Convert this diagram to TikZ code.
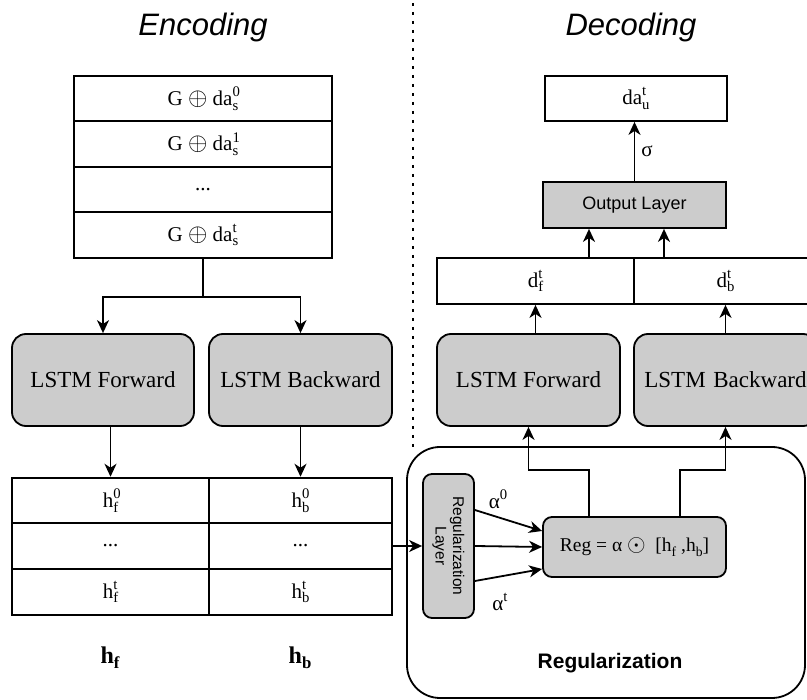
\documentclass[tikz,border=0pt]{standalone}
\usepackage{fontspec}
\setmainfont{Liberation Serif}
\setsansfont{Liberation Sans}
\usetikzlibrary{arrows.meta,calc}
\newcommand\SupSub[2]{\rlap{\raisebox{0.42em}{\scalebox{0.7}{#1}}}\raisebox{-0.22em}{\scalebox{0.7}{#2}}}
\newcommand\Sub[1]{\raisebox{-0.22em}{\scalebox{0.7}{#1}}}
\newcommand\Sup[1]{\raisebox{0.42em}{\scalebox{0.7}{#1}}}
\newcommand\OPlus{\scalebox{1.2}{$\oplus$}}
\definecolor{boxgray}{HTML}{CCCCCC}
\begin{document}
\begin{tikzpicture}[x=1pt,y=-1pt,
  line width=1.8pt,
  >={Stealth[length=13pt,width=12pt,inset=4pt]},
  cell/.style={draw,fill=white,inner sep=0pt,font=\fontsize{21}{25}\selectfont},
  lstm/.style={draw,fill=boxgray,rounded corners=14pt,inner sep=0pt,minimum width=182pt,minimum height=92pt,font=\fontsize{23}{27}\selectfont},
  graybox/.style={draw,fill=boxgray,rounded corners=9pt,inner sep=0pt},
  title/.style={font=\sffamily\itshape\fontsize{31}{36}\selectfont},
  lbl/.style={font=\fontsize{21}{25}\selectfont,inner sep=0pt}]
\useasboundingbox (0,0) rectangle (807,700);
\clip (0,0) rectangle (807,700);

% titles and separator
\node[title] (tenc) at (203,27) {Encoding};
\node[title] (tdec) at (631,27) {Decoding};
\coordinate (sepA) at (413,3);
\coordinate (sepB) at (413,451);
\draw[line width=2.8pt,dash pattern=on 2.8pt off 6.2pt] (sepA) -- (sepB);

% encoder input table
\begin{scope}[every node/.style={cell,minimum width=258pt,minimum height=45.5pt}]
\node (in1) at (203,98.5) {G \OPlus{} da\SupSub{0}{s}};
\node (in2) at (203,144) {G \OPlus{} da\SupSub{1}{s}};
\node (in3) at (203,189.5) {...};
\node (in4) at (203,235) {G \OPlus{} da\SupSub{t}{s}};
\end{scope}

% encoder LSTMs
\node[lstm] (eLF) at (103,380) {LSTM Forward};
\node[lstm,minimum width=183pt] (eLB) at (300.5,380) {LSTM Backward};

\coordinate (split) at ($(in4.south)+(0,38)$);
\draw (in4.south) -- (split);
\draw[->] (split) -| (eLF.north);
\draw[->] (split) -| (eLB.north);

% hidden state table
\begin{scope}[every node/.style={cell,minimum width=197pt,minimum height=45.7pt}]
\node (hf0) at (110.5,500.5) {h\SupSub{0}{f}};
\node (hf1) at (110.5,546) {...};
\node (hft) at (110.5,592) {h\SupSub{t}{f}};
\node[minimum width=183pt] (hb0) at (300.5,500.5) {h\SupSub{0}{b}};
\node[minimum width=183pt] (hb1) at (300.5,546) {...};
\node[minimum width=183pt] (hbt) at (300.5,592) {h\SupSub{t}{b}};
\end{scope}
\node[lbl,font=\fontsize{24}{28}\selectfont] (hfl) at (110,658) {\textbf{h\Sub{f}}};
\node[lbl,font=\fontsize{24}{28}\selectfont] (hbl) at (300,658) {\textbf{h\Sub{b}}};

\draw[->] (eLF.south -| hf0.north) -- (hf0.north);
\draw[->] (eLB.south) -- (hb0.north);

% regularization block
\node[draw,rounded corners=33pt,minimum width=398pt,minimum height=251pt,inner sep=0pt] (regout) at (606,572.5) {};
\node[font=\sffamily\bfseries\fontsize{21}{25}\selectfont] (regt) at (610,663) {Regularization};
\node[graybox,minimum width=51pt,minimum height=144pt] (regL) at (448.5,546) {};
\node[rotate=-90,align=center,font=\sffamily\fontsize{15.5}{17.5}\selectfont,inner sep=0pt] (regLt) at (regL.center) {Regularization\\Layer};
\node[graybox,minimum width=183pt,minimum height=60pt,font=\fontsize{19.5}{23}\selectfont] (reg) at (634.5,547) {Reg = α \scalebox{1.15}{$\odot$}\ \ [h\Sub{f} ,h\Sub{b}]};

\draw[->] (hb1.east) -- (regL.west);
\draw[->] ([yshift=-35pt]regL.east) -- ([yshift=-22pt]reg.west);
\draw[->] (regL.east) -- (reg.west);
\draw[->] ([yshift=36pt]regL.east) -- ([yshift=16pt]reg.west);
\node[lbl] (a0) at (498,499) {α\Sup{0}};
\node[lbl] (at) at (500,602) {α\Sup{t}};

% decoder LSTMs
\node[lstm,minimum width=183pt] (dLF) at (528.5,380) {LSTM Forward};
\node[lstm,minimum width=183pt,text width=183pt,align=center] (dLB) at (725.5,380) {LSTM Backward};

\coordinate (eL) at ($(reg.north)+(-45.5,-46)$);
\coordinate (eR) at ($(reg.north)+(45.5,-46)$);
\draw[->] ([xshift=-45.5pt]reg.north) -- (eL) -| (dLF.south);
\draw[->] ([xshift=45.5pt]reg.north) -- (eR) -| (dLB.south);

% d table
\node[cell,minimum width=197pt,minimum height=46pt] (dF) at (535.5,281) {d\SupSub{t}{f}};
\node[cell,minimum width=183pt,minimum height=46pt] (dB) at (725.5,281) {d\SupSub{t}{b}};
\draw[->] (dLF.north -| dF.south) -- (dF.south);
\draw[->] (dLB.north) -- (dB.south);

% output
\node[draw,fill=boxgray,inner sep=0pt,minimum width=183pt,minimum height=46pt,font=\sffamily\fontsize{18}{22}\selectfont] (out) at (634.5,205) {Output Layer};
\draw[->] ([xshift=-45.5pt]out.south |- dF.north) -- ([xshift=-45.5pt]out.south);
\draw[->] ([xshift=29.5pt]out.south |- dB.north) -- ([xshift=29.5pt]out.south);

\node[cell,minimum width=182pt,minimum height=45pt] (da) at (636,98.5) {da\SupSub{t}{u}};
\draw[->] (out.north) -- (out.north |- da.south) node[midway,right=6pt,lbl] (sig) {σ};
\end{tikzpicture}
\end{document}
